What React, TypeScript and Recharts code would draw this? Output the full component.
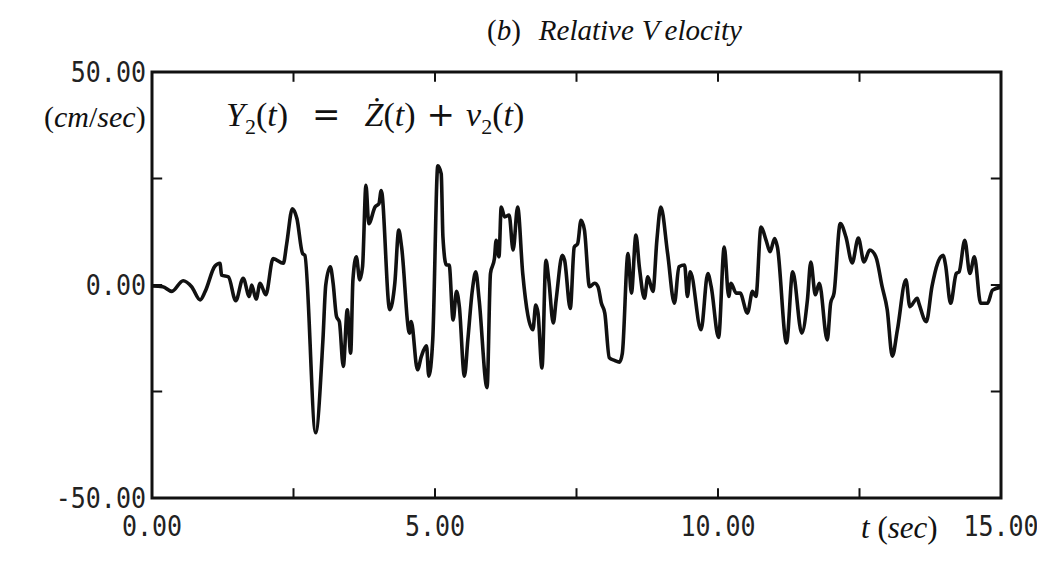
import React from 'react';
import { LineChart, Line, XAxis, YAxis, ReferenceArea, ReferenceLine } from 'recharts';

// time (sec) and relative velocity (cm/sec)
const times = [
  0.0, 0.19, 0.35, 0.55, 0.7, 0.85, 0.94, 1.11, 1.2, 1.23, 1.35, 1.48, 1.61, 1.72, 1.76, 1.84, 1.91, 2.01,
  2.14, 2.32, 2.38, 2.48, 2.56, 2.66, 2.7, 2.89, 3.02, 3.07, 3.15, 3.2, 3.26, 3.31, 3.38, 3.45, 3.51, 3.55,
  3.61, 3.67, 3.72, 3.78, 3.83, 3.94, 4.01, 4.05, 4.2, 4.29, 4.36, 4.41, 4.55, 4.58, 4.69, 4.76, 4.85, 4.89,
  4.96, 5.05, 5.11, 5.14, 5.2, 5.25, 5.32, 5.38, 5.43, 5.52, 5.58, 5.66, 5.72, 5.78, 5.92, 5.98, 6.05, 6.08,
  6.13, 6.17, 6.23, 6.31, 6.38, 6.46, 6.55, 6.73, 6.78, 6.82, 6.89, 6.96, 7.01, 7.09, 7.14, 7.25, 7.29, 7.39,
  7.46, 7.52, 7.58, 7.64, 7.73, 7.82, 7.88, 7.94, 8.0, 8.08, 8.17, 8.26, 8.31, 8.41, 8.47, 8.55, 8.61, 8.7,
  8.76, 8.85, 8.92, 8.99, 9.11, 9.23, 9.31, 9.41, 9.46, 9.51, 9.7, 9.82, 9.88, 10.01, 10.11, 10.19, 10.23,
  10.32, 10.39, 10.52, 10.61, 10.67, 10.76, 10.85, 10.92, 11.0, 11.05, 11.21, 11.32, 11.48, 11.58, 11.64,
  11.72, 11.79, 11.93, 11.99, 12.05, 12.16, 12.26, 12.37, 12.48, 12.58, 12.68, 12.79, 12.9, 12.99, 13.08,
  13.17, 13.32, 13.39, 13.52, 13.55, 13.68, 13.78, 13.88, 13.98, 14.02, 14.11, 14.21, 14.26, 14.36, 14.45,
  14.53, 14.64, 14.76, 14.85, 15.0,
];
const velocity = [
  -0.2, -0.4, -1.5, 1.0, -0.4, -3.5, -1.5, 4.4, 5.1, 2.3, 1.9, -3.7, 1.6, -2.7, 0.0, -3.3, 0.4, -2.3,
  6.2, 5.1, 9.7, 17.9, 15.6, 7.4, 7.0, -34.7, -12.9, 0.0, 4.3, 0.4, -7.4, -8.6, -19.1, -5.8, -16.0, 1.2,
  6.6, 1.2, 4.3, 23.4, 14.4, 18.3, 19.1, 22.2, -5.8, 0.4, 12.9, 8.9, -11.3, -8.6, -19.9, -16.7, -14.3, -21.4,
  -12.9, 28.0, 26.1, 11.3, 4.7, 4.7, -8.2, -1.5, -5.1, -21.4, -12.9, -1.2, 3.1, -3.5, -24.1, 2.7, 6.2, 10.5,
  6.6, 18.3, 16.0, 16.4, 8.2, 18.3, 2.7, -10.5, -4.7, -6.6, -19.5, 5.8, 1.2, -8.9, -3.5, 7.0, 5.8, -5.5,
  8.9, 9.7, 15.2, 12.9, -0.4, 0.4, -0.4, -4.3, -6.6, -17.1, -17.7, -18.1, -16.0, 7.4, -1.9, 11.7, 4.3, -3.1,
  1.9, -1.5, 10.5, 18.3, 7.4, -4.3, 4.3, 4.7, -2.7, 3.1, -10.5, 2.7, -0.4, -12.3, 8.9, -2.7, 0.4,
  -1.9, -1.9, -6.6, -1.5, -2.7, 13.6, 10.5, 7.8, 10.9, 8.9, -13.6, 3.1, -11.3, -3.5, 5.4,
  -2.3, 0.4, -12.9, -4.3, -1.9, 14.4, 11.3, 5.2, 11.0, 5.4, 8.2, 6.6, -0.4, -5.8, -16.7,
  -10.5, 1.2, -5.1, -3.1, -4.3, -8.6, -0.4, 5.1, 7.0, 4.7, -4.3, 2.7, 3.1, 10.5, 2.7,
  6.6, -4.3, -4.3, -1.2, -0.5,
];

const xLabelTicks = [0, 5, 10, 15];
const yLabelTicks = [-50, 0, 50];
const xMinorTicks = [2.5, 5, 7.5, 10, 12.5];
const yMinorTicks = [-25, 0, 25];

const data = times.map((t, i) => ({ t, v: velocity[i] }));

const ink = '#111';
const mathFont = '"Liberation Serif", "DejaVu Serif", serif';
const opFont = '"DejaVu Serif", serif';
const plotFont = '"DejaVu Sans Mono", monospace';

// plotter-style numbers: a bit taller than the mono font draws them
function XTick(props: any) {
  const { x, y, payload } = props;
  return (
    <g transform={`translate(${x},${y})`}>
      <text textAnchor="middle" dy="0.7em" transform="scale(1,1.12)" fill="#222" fontFamily={plotFont} fontSize={25}>
        {Number(payload.value).toFixed(2)}
      </text>
    </g>
  );
}

function YTick(props: any) {
  const { x, y, payload } = props;
  return (
    <g transform={`translate(${x},${y})`}>
      <text textAnchor="end" dy="0.36em" transform="scale(1,1.12)" fill="#222" fontFamily={plotFont} fontSize={25}>
        {Number(payload.value).toFixed(2)}
      </text>
    </g>
  );
}

export default function App() {
  const tx = 0.18;
  const ty = 2.3;
  return (
    <div style={{ position: 'relative', width: 1037, height: 554 }}>
      <LineChart width={1037} height={554} data={data} margin={{ top: 64, right: 44, bottom: 20, left: 64 }}>
        <XAxis
          dataKey="t"
          type="number"
          domain={[0, 15]}
          ticks={xLabelTicks}
          interval={0}
          axisLine={false}
          tickLine={false}
          tickSize={0}
          tickMargin={18}
          height={44}
          tick={<XTick />}
        />
        <YAxis
          type="number"
          domain={[-50, 50]}
          ticks={yLabelTicks}
          interval={0}
          axisLine={false}
          tickLine={false}
          tickSize={0}
          tickMargin={6}
          width={80}
          tick={<YTick />}
        />
        <ReferenceArea x1={0} x2={15} y1={-50} y2={50} fillOpacity={0} stroke={ink} strokeWidth={3} />
        {xMinorTicks.map((x) => (
          <ReferenceLine key={'b' + x} segment={[{ x, y: -50 }, { x, y: -50 + ty }]} stroke={ink} strokeWidth={2} />
        ))}
        {xMinorTicks.map((x) => (
          <ReferenceLine key={'t' + x} segment={[{ x, y: 50 }, { x, y: 50 - ty }]} stroke={ink} strokeWidth={2} />
        ))}
        {yMinorTicks.map((y) => (
          <ReferenceLine key={'l' + y} segment={[{ x: 0, y }, { x: tx, y }]} stroke={ink} strokeWidth={2} />
        ))}
        {yMinorTicks.map((y) => (
          <ReferenceLine key={'r' + y} segment={[{ x: 15, y }, { x: 15 - tx, y }]} stroke={ink} strokeWidth={2} />
        ))}
        <Line type="monotone" dataKey="v" stroke={ink} strokeWidth={3.6} dot={false} isAnimationActive={false} />
      </LineChart>

      <div style={{ position: 'absolute', left: 479, top: 7, fontFamily: mathFont, fontSize: 29, lineHeight: '30px', color: ink, whiteSpace: 'nowrap' }}>
        (<i>b</i>)<span style={{ marginLeft: 18 }}><i>Relative</i></span>
        <span style={{ marginLeft: 8 }}><i>V</i></span><i style={{ marginLeft: 5 }}>elocity</i>
      </div>

      <div style={{ position: 'absolute', left: 218, top: 88, fontFamily: mathFont, fontSize: 34, lineHeight: '36px', color: ink, whiteSpace: 'nowrap' }}>
        <i>Y</i><sub style={{ fontSize: 22 }}>2</sub>(<i>t</i>)
        <span style={{ fontFamily: opFont, margin: '0 24px' }}>=</span>
        <i>Ż</i>(<i>t</i>)<span style={{ fontFamily: opFont, margin: '0 11px' }}>+</span><i>v</i><sub style={{ fontSize: 22 }}>2</sub>(<i>t</i>)
      </div>

      <div style={{ position: 'absolute', left: 36, top: 93, fontFamily: mathFont, fontSize: 30, lineHeight: '32px', color: ink, whiteSpace: 'nowrap' }}>
        (<i>cm</i>/<i>sec</i>)
      </div>

      <div style={{ position: 'absolute', left: 853, top: 504, fontFamily: mathFont, fontSize: 31, lineHeight: '32px', color: ink, whiteSpace: 'nowrap' }}>
        <i>t</i> (<i>sec</i>)
      </div>
    </div>
  );
}
